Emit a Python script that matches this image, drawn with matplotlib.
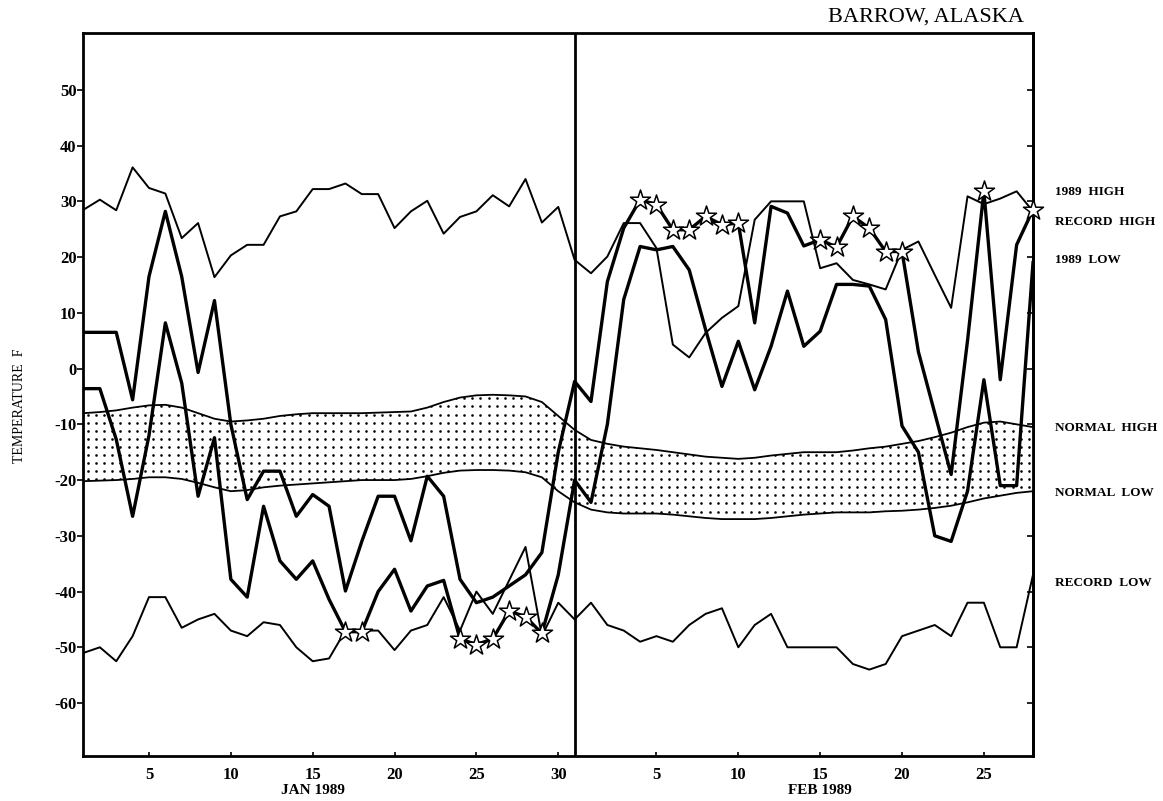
import numpy as np
import matplotlib
matplotlib.use("Agg")
import matplotlib.pyplot as plt
from matplotlib.patches import PathPatch

# ---------------- data (day index 1 = Jan 1, 32 = Feb 1, 59 = Feb 28) ----------------
days = np.arange(1, 60)

record_high = [28.5, 30.3, 28.4, 36.1, 32.4, 31.4, 23.4, 26.1, 16.4, 20.3,
               22.2, 22.2, 27.3, 28.2, 32.2, 32.2, 33.2, 31.3, 31.3, 25.2,
               28.2, 30.1, 24.2, 27.2, 28.2, 31.1, 29.1, 34.0, 26.2, 29.0, 19.5,
               17.1, 20.1, 26.1, 26.1, 21.6, 4.3, 2.0, 6.4, 9.1, 11.2,
               26.7, 30.0, 30.0, 30.0, 18.0, 18.9, 15.9, 15.1, 14.2, 21.3,
               22.8, 16.8, 10.9, 30.9, 29.5, 30.5, 31.8, 28.2]

high_1989 = [6.5, 6.5, 6.5, -5.6, 16.5, 28.2, 16.5, -0.7, 12.2, -10.0,
             -23.5, -18.4, -18.4, -26.5, -22.6, -24.7, -39.9, -31.0, -22.9, -22.9,
             -30.9, -19.3, -22.9, -37.8, -42.0, -41.0, -39.0, -37.0, -33.0, -15.0, -2.3,
             -5.9, 15.6, 25.2, 30.3, 29.4, 24.9, 24.9, 27.3, 25.8, 26.1,
             8.2, 29.1, 27.9, 22.0, 23.1, 21.8, 27.3, 25.2, 21.0, 21.0,
             3.0, -8.0, -19.0, 5.0, 31.8, -2.0, 22.2, 28.5]

low_1989 = [-3.6, -3.6, -12.7, -26.5, -12.0, 8.2, -2.6, -22.9, -12.4, -37.8,
            -41.0, -24.7, -34.5, -37.8, -34.5, -41.4, -47.2, -47.2, -40.0, -36.0,
            -43.5, -39.0, -38.0, -48.5, -49.5, -48.5, -43.5, -44.5, -47.5, -37.0, -20.0,
            -24.0, -10.0, 12.4, 21.9, 21.3, 21.9, 17.7, 7.0, -3.2, 4.9,
            -3.8, 4.0, 13.9, 4.0, 6.7, 15.1, 15.1, 14.8, 8.8, -10.3,
            -15.0, -30.0, -31.0, -22.0, -2.0, -21.0, -21.0, 19.0]

record_low = [-51.0, -50.0, -52.5, -48.0, -41.0, -41.0, -46.5, -45.0, -44.0, -47.0,
              -48.0, -45.5, -46.0, -50.0, -52.5, -52.0, -47.0, -47.0, -47.0, -50.5,
              -47.0, -46.0, -41.0, -47.0, -40.0, -44.0, -38.0, -32.0, -48.0, -42.0, -45.0,
              -42.0, -46.0, -47.0, -49.0, -48.0, -49.0, -46.0, -44.0, -43.0, -50.0,
              -46.0, -44.0, -50.0, -50.0, -50.0, -50.0, -53.0, -54.0, -53.0, -48.0,
              -47.0, -46.0, -48.0, -42.0, -42.0, -50.0, -50.0, -37.0]

normal_high = [-8.0, -7.8, -7.5, -7.0, -6.6, -6.5, -7.0, -8.0, -9.0, -9.5,
               -9.3, -9.0, -8.5, -8.2, -8.0, -8.0, -8.0, -8.0, -7.9, -7.8,
               -7.7, -7.0, -6.0, -5.2, -4.8, -4.7, -4.8, -5.0, -6.0, -8.5, -11.0,
               -12.8, -13.5, -14.0, -14.3, -14.6, -15.0, -15.4, -15.8, -16.0, -16.2,
               -16.0, -15.6, -15.3, -15.0, -15.0, -15.0, -14.7, -14.3, -14.0, -13.5,
               -13.0, -12.3, -11.5, -10.5, -9.7, -9.5, -10.0, -10.5]

normal_low = [-20.2, -20.1, -20.0, -19.8, -19.5, -19.5, -19.8, -20.5, -21.3, -22.0,
              -21.8, -21.3, -21.0, -20.8, -20.6, -20.4, -20.2, -20.0, -20.0, -20.0,
              -19.8, -19.3, -18.7, -18.3, -18.2, -18.2, -18.3, -18.6, -19.5, -22.0, -24.0,
              -25.3, -25.8, -26.0, -26.0, -26.0, -26.2, -26.5, -26.8, -27.0, -27.0,
              -27.0, -26.8, -26.5, -26.2, -26.0, -25.8, -25.8, -25.8, -25.6, -25.5,
              -25.3, -25.0, -24.6, -24.0, -23.3, -22.8, -22.3, -22.0]

star_days = [17, 18, 24, 25, 26, 27, 28, 29,
             35, 36, 37, 38, 39, 40, 41, 46, 47, 48, 49, 50, 51, 56, 59]
star_vals = [-47.2, -47.2, -48.5, -49.5, -48.5, -43.5, -44.5, -47.5,
             30.3, 29.4, 24.9, 24.9, 27.3, 25.8, 26.1, 23.1, 21.8, 27.3, 25.2, 21.0, 21.0, 31.8, 28.5]

tick_days = [5, 10, 15, 20, 25, 30, 36, 41, 46, 51, 56]
tick_labels = ["5", "10", "15", "20", "25", "30", "5", "10", "15", "20", "25"]
month_label_days = [15, 46]
month_labels = ["JAN 1989", "FEB 1989"]
series_labels = ["1989  HIGH", "RECORD  HIGH", "1989  LOW", "NORMAL  HIGH", "NORMAL  LOW", "RECORD  LOW"]
series_label_y = [0.760, 0.723, 0.675, 0.466, 0.385, 0.272]

# ---------------- figure ----------------
serif = ["Liberation Serif", "DejaVu Serif"]
plt.rcParams["font.family"] = serif
fig = plt.figure(figsize=(11.63, 8.01), dpi=100)
ax = fig.add_axes([83.5 / 1163, 1 - 756 / 801, (1033 - 83.5) / 1163, (756 - 33) / 801])

ax.set_xlim(1, 59)
ax.set_ylim(-69.5, 60.2)

# shaded normal band with dot texture
band = ax.fill_between(days, normal_low, normal_high, facecolor="white", edgecolor="none", zorder=1)
gx = np.arange(1.25, 59, 0.5)
gy = np.arange(-30, 0, 1.45)
GX, GY = np.meshgrid(gx, gy)
dots = ax.scatter(GX.ravel(), GY.ravel(), s=3.5, c="black", marker="o", linewidths=0, zorder=2)
clip_path = band.get_paths()[0]
clip_patch = PathPatch(clip_path, transform=ax.transData, facecolor="none", edgecolor="none")
ax.add_patch(clip_patch)
dots.set_clip_path(clip_patch)

ax.plot(days, normal_high, color="black", lw=1.3, zorder=3)
ax.plot(days, normal_low, color="black", lw=1.3, zorder=3)
ax.plot(days, record_high, color="black", lw=1.4, zorder=4)
ax.plot(days, record_low, color="black", lw=1.4, zorder=4)
ax.plot(days, high_1989, color="black", lw=2.4, zorder=5)
ax.plot(days, low_1989, color="black", lw=2.4, zorder=5)
ax.scatter(star_days, star_vals, marker="*", s=230, facecolor="white", edgecolor="black",
           linewidths=1.1, zorder=6, clip_on=False)

ax.axvline(31, color="black", lw=2.0, zorder=6)

for s in ax.spines.values():
    s.set_linewidth(2.0)

ax.set_yticks(np.arange(-60, 60, 10))
ax.set_yticklabels([str(v) for v in range(-60, 60, 10)])
ax.set_xticks(tick_days)
ax.set_xticklabels(tick_labels)
ax.tick_params(axis="y", direction="out", length=4, width=1.2, labelsize=12, pad=1)
ax.tick_params(axis="x", direction="in", length=3, width=1.2, labelsize=12, pad=8)
for lab in ax.get_xticklabels() + ax.get_yticklabels():
    lab.set_fontweight("bold")

# inward ticks on the right spine
sec = ax.secondary_yaxis("right")
sec.set_yticks(np.arange(-60, 60, 10))
sec.tick_params(direction="in", length=4, width=1.2, labelright=False)
sec.spines["right"].set_linewidth(2.0)

for d, lab in zip(month_label_days, month_labels):
    ax.text(d, -0.048, lab, transform=ax.get_xaxis_transform(), ha="center", va="center",
            fontsize=11, fontweight="bold")

for lab, yy in zip(series_labels, series_label_y):
    fig.text(1055 / 1163, yy, lab, ha="left", va="center", fontsize=9.5, fontweight="bold")

fig.text(926 / 1163, 1 - 17 / 801, "BARROW, ALASKA", ha="center", va="center", fontsize=16)
fig.text(20 / 1163, 0.494, "TEMPERATURE  F", rotation=90, ha="center", va="center", fontsize=10)

fig.savefig("out.png", dpi=100)
